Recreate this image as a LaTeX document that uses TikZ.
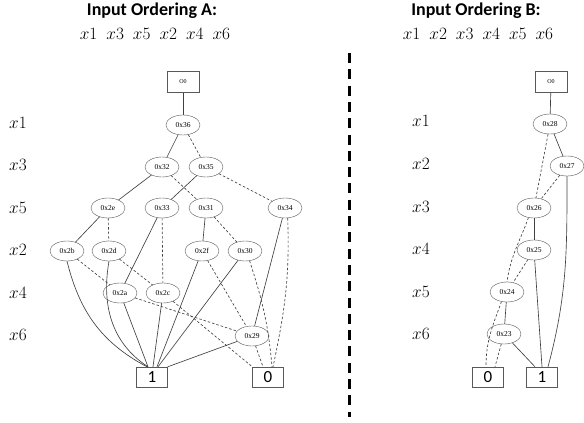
\documentclass[tikz,border=0pt]{standalone}
\usepackage{amsmath}
\usepackage{fontspec}
\setmainfont{Liberation Serif}
\newfontfamily\calfont{Carlito}
\usetikzlibrary{shapes.geometric}

\newcommand{\ordgap}{\hspace{9pt}}

\begin{document}
\begin{tikzpicture}[x=1pt,y=1pt,
    bddnode/.style={ellipse,draw=black!65,inner sep=0pt,minimum width=34pt,minimum height=20pt,font=\fontsize{7.5}{8}\selectfont},
    leafbox/.style={rectangle,draw=black!65,inner sep=0pt,minimum width=31pt,minimum height=20pt,font=\calfont\fontsize{17}{18}\selectfont},
    rootbox/.style={rectangle,draw=black!65,inner sep=0pt,minimum width=32pt,minimum height=21pt,font=\fontsize{6}{7}\selectfont},
    varlabel/.style={anchor=base,font=\fontsize{16.5}{18}\selectfont},
    thenedge/.style={draw=black!75,line width=0.65pt},
    elseedge/.style={draw=black!75,line width=0.65pt,dash pattern=on 2.5pt off 2pt}]
    \useasboundingbox (0,0) rectangle (584,-423);

    % titles
    \node[anchor=base,font=\calfont\bfseries\fontsize{18}{20}\selectfont] (titleA) at (152,-16) {Input Ordering A:};
    \node[anchor=base,font=\fontsize{17.5}{19}\selectfont] (orderA) at (155,-39) {$x1$\ordgap$x3$\ordgap$x5$\ordgap$x2$\ordgap$x4$\ordgap$x6$};
    \node[anchor=base,font=\calfont\bfseries\fontsize{18}{20}\selectfont] (titleB) at (476,-16) {Input Ordering B:};
    \node[anchor=base,font=\fontsize{17.5}{19}\selectfont] (orderB) at (478,-39) {$x1$\ordgap$x2$\ordgap$x3$\ordgap$x4$\ordgap$x5$\ordgap$x6$};

    % separator
    \coordinate (sepTop) at (349,-53);
    \coordinate (sepBot) at (349,-417);
    \draw[line width=3pt,dash pattern=on 10pt off 6.3pt] (sepTop) -- (sepBot);

    % variable levels, ordering A
    \node[varlabel] (la1) at (18,-128) {$x1$};
    \node[varlabel] (la3) at (18,-170) {$x3$};
    \node[varlabel] (la5) at (18,-213) {$x5$};
    \node[varlabel] (la2) at (18,-255) {$x2$};
    \node[varlabel] (la4) at (18,-298) {$x4$};
    \node[varlabel] (la6) at (18,-340) {$x6$};

    % variable levels, ordering B
    \node[varlabel] (lb1) at (421,-126) {$x1$};
    \node[varlabel] (lb2) at (421,-169) {$x2$};
    \node[varlabel] (lb3) at (421,-212) {$x3$};
    \node[varlabel] (lb4) at (421,-254) {$x4$};
    \node[varlabel] (lb5) at (421,-297) {$x5$};
    \node[varlabel] (lb6) at (421,-339) {$x6$};

    % BDD for ordering A
    \node[rootbox] (rootA) at (183,-82) {O0};
    \node[bddnode] (n36) at (183,-125) {0x36};
    \node[bddnode] (n32) at (162,-167) {0x32};
    \node[bddnode] (n35) at (206,-167) {0x35};
    \node[bddnode] (n2e) at (108,-208) {0x2e};
    \node[bddnode] (n33) at (162,-208) {0x33};
    \node[bddnode] (n31) at (206,-208) {0x31};
    \node[bddnode] (n34) at (285,-208) {0x34};
    \node[bddnode] (n2b) at (67,-251) {0x2b};
    \node[bddnode] (n2d) at (109,-251) {0x2d};
    \node[bddnode] (n2f) at (202,-251) {0x2f};
    \node[bddnode] (n30) at (245,-251) {0x30};
    \node[bddnode] (n2a) at (120,-293) {0x2a};
    \node[bddnode] (n2c) at (163,-293) {0x2c};
    \node[bddnode] (n29) at (252,-336) {0x29};
    \node[leafbox] (oneA) at (152,-377) {1};
    \node[leafbox] (zeroA) at (268,-377) {0};

    \draw[thenedge] (rootA) -- (n36);
    \draw[thenedge] (n36) -- (n32);
    \draw[elseedge] (n36) -- (n35);
    \draw[thenedge] (n32) -- (n2e);
    \draw[elseedge] (n32) -- (n31);
    \draw[thenedge] (n35) -- (n33);
    \draw[elseedge] (n35) -- (n34);
    \draw[thenedge] (n2e) -- (n2b);
    \draw[elseedge] (n2e) -- (n2d);
    \draw[thenedge] (n33) -- (n2a);
    \draw[elseedge] (n33) -- (n2c);
    \draw[thenedge] (n31) -- (n2f);
    \draw[elseedge] (n31) -- (n30);
    \draw[thenedge] (n34) -- (n29);
    \draw[elseedge] (n34.-75) to[out=-88,in=78] ([xshift=5pt]zeroA.north);
    \draw[thenedge] (n2b.south) to[out=-76,in=152] ([xshift=-5pt]oneA.north);
    \draw[elseedge] (n2b) -- (n2a);
    \draw[thenedge] (n2d.south) to[out=-100,in=147] ([xshift=-4pt]oneA.north);
    \draw[elseedge] (n2d) -- (n2c);
    \draw[thenedge] (n2f) -- ([xshift=5pt]oneA.north);
    \draw[elseedge] (n2f) -- (n29);
    \draw[thenedge] (n30) -- ([xshift=6pt]oneA.north);
    \draw[elseedge] (n30.-65) to[out=-72,in=95] ([xshift=4pt]zeroA.north);
    \draw[thenedge] (n2a) -- ([xshift=-4pt]oneA.north);
    \draw[elseedge] (n2a) -- (n29);
    \draw[thenedge] (n2c) -- ([xshift=1pt]oneA.north);
    \draw[elseedge] (n2c) -- (zeroA.north west);
    \draw[thenedge] (n29) -- (oneA.north east);
    \draw[elseedge] (n29) -- ([xshift=-5pt]zeroA.north);

    % BDD for ordering B
    \node[rootbox] (rootB) at (551,-82) {O0};
    \node[bddnode] (n28) at (550,-124) {0x28};
    \node[bddnode] (n27) at (567,-166) {0x27};
    \node[bddnode] (n26) at (534,-208) {0x26};
    \node[bddnode] (n25) at (534,-250) {0x25};
    \node[bddnode] (n24) at (507,-292) {0x24};
    \node[bddnode] (n23) at (504,-334) {0x23};
    \node[leafbox] (zeroB) at (488,-377) {0};
    \node[leafbox] (oneB) at (542,-377) {1};

    \draw[thenedge] (rootB) -- (n28);
    \draw[thenedge] (n28) -- (n27);
    \draw[elseedge] (n28) -- (n26);
    \draw[thenedge] (n27.south) to[out=-90,in=75] ([xshift=6pt]oneB.north);
    \draw[elseedge] (n27) -- (n26);
    \draw[thenedge] (n26) -- (n25);
    \draw[elseedge] (n26.240) to[out=-110,in=82] (n24.north);
    \draw[thenedge] (n25) -- (oneB.north);
    \draw[elseedge] (n25) -- (n24);
    \draw[thenedge] (n24) -- (n23);
    \draw[elseedge] (n24.240) to[out=-110,in=90] ([xshift=-2pt]zeroB.north);
    \draw[thenedge] (n23) -- ([xshift=-7pt]oneB.north);
    \draw[elseedge] (n23) -- ([xshift=7pt]zeroB.north);
\end{tikzpicture}
\end{document}
